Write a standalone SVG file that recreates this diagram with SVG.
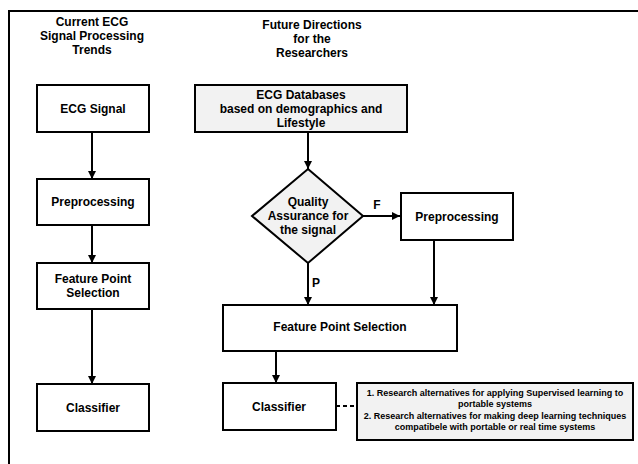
<svg xmlns="http://www.w3.org/2000/svg" width="638" height="464" viewBox="0 0 638 464">
<defs>
<marker id="ah" markerWidth="8" markerHeight="8" refX="8" refY="4" orient="auto" markerUnits="userSpaceOnUse">
<path d="M0,0 L8,4 L0,8 Z" fill="#000"/>
</marker>
</defs>
<style>
.box{fill:#fff;stroke:#000;stroke-width:2}
.gbox{fill:#f2f2f2;stroke:#000;stroke-width:2}
text{font-family:"Liberation Sans",Arial,sans-serif;font-weight:bold;fill:#000;text-anchor:middle}
.t{font-size:12px}
.s{font-size:9px}
.c{stroke:#000;stroke-width:2;fill:none}
.a{marker-end:url(#ah)}
</style>
<rect width="638" height="464" fill="#fff"/>
<path d="M9,470 V11 H645" fill="none" stroke="#000" stroke-width="2"/>
<g id="title-left">
<text class="t" x="92" y="26">Current ECG</text>
<text class="t" x="92" y="40">Signal Processing</text>
<text class="t" x="92" y="54">Trends</text>
</g>
<g id="title-right">
<text class="t" x="312" y="29">Future Directions</text>
<text class="t" x="312" y="43">for the</text>
<text class="t" x="312" y="57">Researchers</text>
</g>
<g id="connectors">
<line class="c a" x1="92" y1="132" x2="92" y2="179"/>
<line class="c a" x1="92" y1="225" x2="92" y2="263"/>
<line class="c a" x1="92" y1="309" x2="92" y2="384"/>
<line class="c a" x1="308" y1="132" x2="308" y2="169"/>
<line class="c a" x1="363" y1="216" x2="400" y2="216"/>
<line class="c a" x1="308" y1="263" x2="308" y2="305"/>
<line class="c a" x1="434" y1="240" x2="434" y2="305"/>
<line class="c a" x1="276" y1="351" x2="276" y2="383"/>
<line x1="336" y1="406" x2="357" y2="406" stroke="#000" stroke-width="2" stroke-dasharray="4,3"/>
<text class="t" x="377" y="209">F</text>
<text class="t" x="316" y="287">P</text>
</g>
<g id="ecg-signal">
<rect class="box" x="37" y="85" width="112" height="47"/>
<text class="t" x="93" y="113">ECG Signal</text>
</g>
<g id="preprocessing-left">
<rect class="box" x="37" y="179" width="112" height="46"/>
<text class="t" x="93" y="206">Preprocessing</text>
</g>
<g id="fps-left">
<rect class="box" x="37" y="263" width="112" height="46"/>
<text class="t" x="93" y="283">Feature Point</text>
<text class="t" x="93" y="297">Selection</text>
</g>
<g id="classifier-left">
<rect class="box" x="37" y="384" width="112" height="47"/>
<text class="t" x="93" y="412">Classifier</text>
</g>
<g id="ecg-databases">
<rect class="gbox" x="195" y="85" width="212" height="47"/>
<text class="t" x="301" y="99">ECG Databases</text>
<text class="t" x="301" y="113">based on demographics and</text>
<text class="t" x="301" y="127">Lifestyle</text>
</g>
<g id="quality">
<polygon class="gbox" points="308,169 363,216 308,263 252,216"/>
<text class="t" x="308" y="206">Quality</text>
<text class="t" x="308" y="220">Assurance for</text>
<text class="t" x="308" y="234">the signal</text>
</g>
<g id="preprocessing-right">
<rect class="box" x="401" y="193" width="112" height="47"/>
<text class="t" x="457" y="221">Preprocessing</text>
</g>
<g id="fps-right">
<rect class="box" x="223" y="305" width="234" height="46"/>
<text class="t" x="340" y="331">Feature Point Selection</text>
</g>
<g id="classifier-right">
<rect class="box" x="223" y="383" width="113" height="47"/>
<text class="t" x="279" y="411">Classifier</text>
</g>
<g id="note">
<rect class="gbox" x="357" y="383" width="276" height="57" stroke-width="1.5"/>
<text class="s" x="495" y="396">1. Research alternatives for applying Supervised learning to</text>
<text class="s" x="495" y="407">portable systems</text>
<text class="s" x="495" y="419">2. Research alternatives for making deep learning techniques</text>
<text class="s" x="495" y="430">compatibele with portable or real time systems</text>
</g>
</svg>
